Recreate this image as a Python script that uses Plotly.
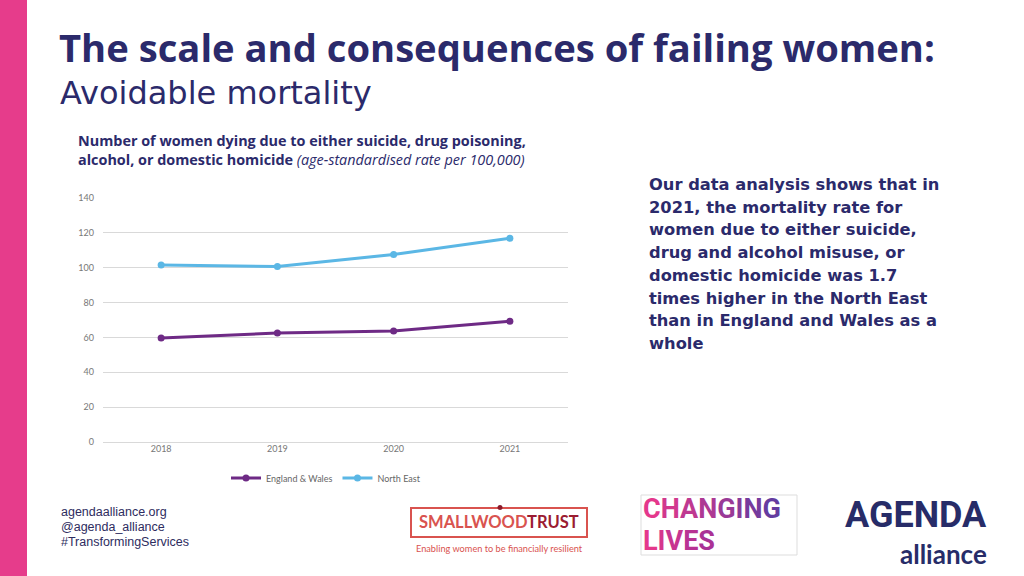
import plotly.graph_objects as go

# ---- data ----
years = ["2018", "2019", "2020", "2021"]
england_wales = [59.7, 62.5, 63.7, 69.3]
north_east = [101.5, 100.7, 107.6, 116.9]
y_ticks = [0, 20, 40, 60, 80, 100, 120, 140]

NAVY = "#2B2A6B"
PINK = "#E63C8B"
PURPLE = "#6E2A85"
BLUE = "#5BB7E5"
W, H = 1024, 576

def px(x):
    return x / W

def py(y):
    return 1 - y / H

fig = go.Figure()
fig.add_trace(go.Scatter(x=years, y=england_wales, name="England & Wales", mode="lines+markers",
                         line=dict(color=PURPLE, width=3), marker=dict(size=7, color=PURPLE)))
fig.add_trace(go.Scatter(x=years, y=north_east, name="North East", mode="lines+markers",
                         line=dict(color=BLUE, width=3), marker=dict(size=7, color=BLUE)))

HEAD = "'Open Sans', Lato, sans-serif"
TICK = "Lato, 'Open Sans', sans-serif"
DJ = "'DejaVu Sans', sans-serif"

fig.update_layout(
    width=W, height=H,
    margin=dict(l=0, r=0, t=0, b=0),
    paper_bgcolor="white", plot_bgcolor="white",
    showlegend=True,
    legend=dict(orientation="h", x=px(326), xanchor="center", y=py(478), yanchor="middle",
                font=dict(family=TICK, size=9, color="#666666"), itemwidth=30,
                bgcolor="rgba(0,0,0,0)"),
    xaxis=dict(domain=[px(103), px(568)], type="category", range=[-0.5, 3.5],
               showgrid=False, showline=False, ticks="", automargin=False,
               tickfont=dict(family=TICK, size=9, color="#777777")),
    yaxis=dict(domain=[py(442), py(198)], range=[0, 140], tickvals=y_ticks,
               showgrid=True, gridcolor="#D9D9D9", gridwidth=1,
               zeroline=True, zerolinecolor="#D9D9D9", zerolinewidth=1,
               showline=False, ticks="", ticklabelstandoff=8, automargin=False,
               tickfont=dict(family=TICK, size=9, color="#777777")),
)

shapes = [
    dict(type="rect", xref="paper", yref="paper", x0=0, x1=px(27), y0=0, y1=1,
         fillcolor=PINK, line=dict(width=0), layer="below"),
    # smallwood trust box
    dict(type="rect", xref="paper", yref="paper", x0=px(411), x1=px(587), y0=py(537), y1=py(508),
         fillcolor="rgba(0,0,0,0)", line=dict(color="#D9534F", width=2)),
    dict(type="circle", xref="paper", yref="paper", x0=px(497.5), x1=px(502.5), y0=py(510), y1=py(505),
         fillcolor="#8B1A2B", line=dict(width=0)),
    # changing lives frame
    dict(type="rect", xref="paper", yref="paper", x0=px(641), x1=px(797), y0=py(555), y1=py(495),
         fillcolor="rgba(0,0,0,0)", line=dict(color="#DDDDDD", width=1)),
]
fig.update_layout(shapes=shapes)

ann = []

def text(x, y, t, size, color=NAVY, family=HEAD, xanchor="left", yanchor="middle", weight=None):
    f = dict(family=family, size=size, color=color)
    if weight is not None:
        f["weight"] = weight
    ann.append(dict(xref="paper", yref="paper", x=px(x), y=py(y), text=t, showarrow=False,
                    xanchor=xanchor, yanchor=yanchor, align="left", font=f))

text(57, 47, "<b>The scale and consequences of failing women:</b>", 38.2)
text(58, 93, "Avoidable mortality", 32, family=DJ)
text(76, 141, "<b>Number of women dying due to either suicide, drug poisoning,</b>", 14.4)
text(76, 159, "<b>alcohol, or domestic homicide</b> <i>(age-standardised rate per 100,000)</i>", 14.4)
right_lines = ["Our data analysis shows that in", "2021, the mortality rate for",
               "women due to either suicide,", "drug and alcohol misuse, or",
               "domestic homicide was 1.7", "times higher in the North East",
               "than in England and Wales as a", "whole"]
for i, l in enumerate(right_lines):
    text(647, 184.5 + 22.7 * i, "<b>%s</b>" % l, 16.3, family=DJ)
footer = ["agendaalliance.org", "@agenda_alliance", "#TransformingServices"]
for i, l in enumerate(footer):
    text(59, 512 + 15 * i, l, 12.5, color="#2E2C60", family="'Liberation Sans', Arial, sans-serif")

# logos
text(499, 522, "<b><span style='color:#D9534F'>SMALLWOOD</span><span style='color:#9B1C31'>TRUST</span></b>",
     16.5, family="Lato, sans-serif", xanchor="center")
text(499, 548, "Enabling women to be financially resilient", 9.2, color="#D9534F",
     family="Lato, sans-serif", xanchor="center")

def grad(word, c0, c1):
    out = []
    n = len(word)
    for i, ch in enumerate(word):
        t = i / max(n - 1, 1)
        r = int(c0[0] + (c1[0] - c0[0]) * t)
        g = int(c0[1] + (c1[1] - c0[1]) * t)
        b = int(c0[2] + (c1[2] - c0[2]) * t)
        out.append("<span style='color:rgb(%d,%d,%d)'>%s</span>" % (r, g, b, ch))
    return "<b>" + "".join(out) + "</b>"

COND = "Roboto, sans-serif"
text(641, 509, grad("CHANGING", (228, 56, 140), (100, 60, 160)), 27, family=COND)
text(641, 541, grad("LIVES", (228, 56, 140), (170, 50, 150)), 27, family=COND)
text(989, 515, "<b>AGENDA</b>", 36, color="#272C68", family=COND, xanchor="right")
text(989, 554, "<b>alliance</b>", 26, color="#272C68", family="Lato, sans-serif", xanchor="right")

fig.update_layout(annotations=ann)
fig.write_html("out.html", config={"displayModeBar": False},
               post_script="document.body.style.margin='0';document.body.style.padding='0';")
